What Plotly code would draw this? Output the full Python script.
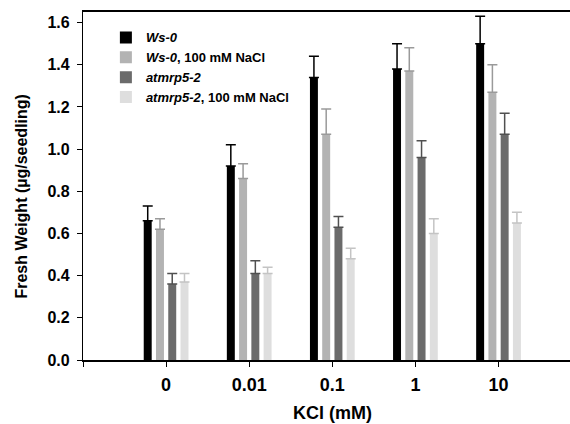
import plotly.graph_objects as go

categories = ["0", "0.01", "0.1", "1", "10"]
series_names = ["<i>Ws-0</i>", "<i>Ws-0</i>, 100 mM NaCl", "<i>atmrp5-2</i>", "<i>atmrp5-2</i>, 100 mM NaCl"]
ws0 = [0.66, 0.92, 1.34, 1.38, 1.50]
ws0_nacl = [0.62, 0.86, 1.07, 1.37, 1.27]
mrp = [0.36, 0.41, 0.63, 0.96, 1.07]
mrp_nacl = [0.37, 0.41, 0.48, 0.60, 0.65]
ws0_err = [0.07, 0.10, 0.10, 0.12, 0.13]
ws0_nacl_err = [0.05, 0.07, 0.12, 0.11, 0.13]
mrp_err = [0.05, 0.06, 0.05, 0.08, 0.10]
mrp_nacl_err = [0.04, 0.03, 0.05, 0.07, 0.05]
y_ticks = [0, 0.2, 0.4, 0.6, 0.8, 1.0, 1.2, 1.4, 1.6]

values = [ws0, ws0_nacl, mrp, mrp_nacl]
errors = [ws0_err, ws0_nacl_err, mrp_err, mrp_nacl_err]
colors = ["#000000", "#b3b3b3", "#6b6b6b", "#dedede"]
err_colors = ["#000000", "#9a9a9a", "#505050", "#c4c4c4"]

xpos = list(range(len(categories)))
font = "Liberation Sans, Arial, sans-serif"

fig = go.Figure()
for name, v, e, c, ec in zip(series_names, values, errors, colors, err_colors):
    fig.add_trace(go.Bar(
        x=xpos, y=v, name="<b>" + name + "</b>",
        marker=dict(color=c, line=dict(width=0)),
        error_y=dict(type="data", array=e, arrayminus=[0] * len(e), symmetric=False,
                     color=ec, thickness=1.5, width=5),
    ))

fig.update_layout(
    width=570, height=424,
    margin=dict(l=83, r=0, t=12, b=64, autoexpand=False),
    paper_bgcolor="white", plot_bgcolor="white",
    barmode="group", bargap=0.41, bargroupgap=0.35,
    font=dict(family=font, color="black"),
    showlegend=True,
    legend=dict(x=0.047, y=0.97, xanchor="left", yanchor="top",
                font=dict(size=13, family=font), bgcolor="rgba(0,0,0,0)",
                tracegroupgap=0),
    xaxis=dict(
        range=[-1, 4.86], tickvals=[-1] + xpos, ticktext=[""] + ["<b>" + c + "</b>" for c in categories],
        showline=True, linecolor="black", linewidth=1.6, mirror=True,
        ticks="outside", ticklen=5, tickwidth=1.2, tickcolor="black",
        ticklabelstandoff=3,
        tickfont=dict(size=18, family=font), showgrid=False, zeroline=False,
    ),
    yaxis=dict(
        range=[0, 1.65], tickvals=y_ticks,
        ticktext=["<b>%.1f</b>" % t for t in y_ticks],
        showline=True, linecolor="black", linewidth=1.2,
        ticks="outside", ticklen=5, tickwidth=1.2, tickcolor="black",
        ticklabelstandoff=4,
        tickfont=dict(size=16, family=font), showgrid=False, zeroline=False,
    ),
)
fig.add_annotation(text="<b>KCl (mM)</b>", xref="paper", yref="paper",
                   x=0.513, y=0, yshift=-53, xanchor="center", yanchor="middle",
                   showarrow=False, font=dict(size=18, family=font))
fig.add_annotation(text="<b>Fresh Weight (µg/seedling)</b>", xref="paper", yref="paper",
                   x=0, xshift=-61.5, y=0.471, xanchor="center", yanchor="middle",
                   textangle=-90, showarrow=False, font=dict(size=16, family=font))

fig.write_html("out.html", config={"displayModeBar": False},
               post_script="document.body.style.margin='0';document.body.style.overflow='hidden';")
